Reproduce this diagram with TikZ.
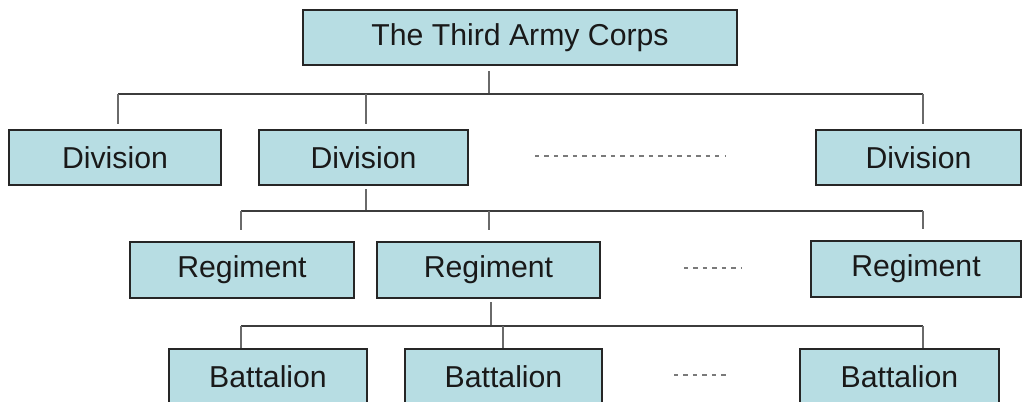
\documentclass[tikz,border=0pt]{standalone}
\usepackage{fontspec}
\setmainfont{Liberation Sans}
\definecolor{boxfill}{HTML}{B7DDE3}
\definecolor{busline}{HTML}{3C3C3C}
\definecolor{stubline}{HTML}{6A6A6A}
\definecolor{dotline}{HTML}{7A7A7A}
\tikzset{
  unit/.style={draw=black!85,fill=boxfill,line width=1.1pt,inner sep=0pt,
    minimum height=1.1cm,font=\fontsize{17.2}{20}\selectfont,text=black!90},
  bus/.style={draw=busline,line width=1.1pt},
  stub/.style={draw=stubline,line width=1.6pt},
  etc/.style={draw=dotline,line width=0.7pt,dash pattern=on 2.4pt off 3pt}
}
\begin{document}
\begin{tikzpicture}[x=0.02cm,y=-0.02cm]
    \clip (0,0) rectangle (1024,402);
    \fill[white] (0,0) rectangle (1024,402);
    % boxes
    \node[unit,minimum width=8.68cm] (c) at (520,37.5) {The Third Army Corps};
    \node[unit,minimum width=4.24cm] (d1) at (115,157.5) {Division};
    \node[unit,minimum width=4.18cm] (d2) at (363.5,157.5) {Division};
    \node[unit,minimum width=4.10cm] (d3) at (918.5,157.5) {Division};
    \node[unit,minimum width=4.48cm,minimum height=1.12cm] (r1) at (242,270) {Regiment};
    \node[unit,minimum width=4.46cm,minimum height=1.12cm] (r2) at (488.5,270) {Regiment};
    \node[unit,minimum width=4.20cm,minimum height=1.12cm] (r3) at (916,269) {Regiment};
    \node[unit,minimum width=3.96cm] (b1) at (268,376.5) {Battalion};
    \node[unit,minimum width=3.94cm] (b2) at (503.5,376.5) {Battalion};
    \node[unit,minimum width=3.98cm] (b3) at (899.5,376.5) {Battalion};
    % bus points
    \coordinate (h1) at (489,94);
    \coordinate (a1) at (118,94);
    \coordinate (a2) at (366,94);
    \coordinate (a3) at (923,94);
    \coordinate (h2) at (366,211);
    \coordinate (e1) at (241,211);
    \coordinate (e2) at (489,211);
    \coordinate (e3) at (923,211);
    \coordinate (h3) at (491,326);
    \coordinate (k1) at (241,326);
    \coordinate (k2) at (503,326);
    \coordinate (k3) at (923,326);
    % corps -> divisions
    \draw[stub,shorten <=3pt] (c.south -| h1) -- (h1);
    \draw[bus] (a1) -- (a3);
    \draw[stub,shorten >=3pt] (a1) -- (a1 |- d1.north);
    \draw[stub,shorten >=3pt] (a2) -- (a2 |- d2.north);
    \draw[stub,shorten >=3pt] (a3) -- (a3 |- d3.north);
    % division -> regiments
    \draw[stub,shorten <=2pt] (d2.south -| h2) -- (h2);
    \draw[bus] (e1) -- (e3);
    \draw[stub,shorten >=6pt] (e1) -- (e1 |- r1.north);
    \draw[stub,shorten >=6pt] (e2) -- (e2 |- r2.north);
    \draw[stub,shorten >=6pt] (e3) -- (e3 |- r3.north);
    % regiment -> battalions
    \draw[stub,shorten <=2pt] (r2.south -| h3) -- (h3);
    \draw[bus] (k1) -- (k3);
    \draw[stub] (k1) -- (k1 |- b1.north);
    \draw[stub] (k2) -- (k2 |- b2.north);
    \draw[stub] (k3) -- (k3 |- b3.north);
    % more units
    \coordinate (m1) at (535,156);
    \coordinate (n1) at (726,156);
    \coordinate (m2) at (684,268);
    \coordinate (n2) at (741,268);
    \coordinate (m3) at (674,375);
    \coordinate (n3) at (730,375);
    \draw[etc] (m1) -- (n1);
    \draw[etc] (m2) -- (n2);
    \draw[etc] (m3) -- (n3);
\end{tikzpicture}
\end{document}
